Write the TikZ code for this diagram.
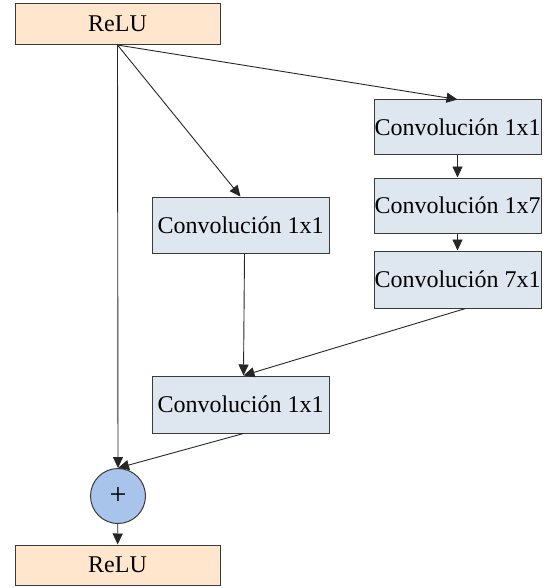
\documentclass[tikz,border=0pt]{standalone}
\usepackage{fontspec}
\setmainfont{Liberation Serif}
\usetikzlibrary{arrows.meta}
\definecolor{reluFill}{HTML}{FFE6CC}
\definecolor{convFill}{HTML}{DEE6EF}
\definecolor{sumFill}{HTML}{A9C4EB}
\definecolor{edgeGray}{HTML}{3A3A3A}
\tikzset{
  block/.style={draw=edgeGray, line width=1pt, inner sep=0pt, font=\fontsize{24}{28}\selectfont},
  relubox/.style={block, fill=reluFill, minimum width=205pt, minimum height=41pt},
  convbox/.style={block, fill=convFill, minimum width=167pt, minimum height=55pt},
  sumnode/.style={draw=edgeGray, line width=1pt, fill=sumFill, circle, minimum size=55pt, inner sep=0pt, font=\fontsize{30}{34}\selectfont},
  link/.style={draw=black!85, line width=0.9pt, -{Triangle[length=11pt,width=10pt]}}
}
\begin{document}
\begin{tikzpicture}[x=1pt,y=-1pt]
\useasboundingbox (0,0) rectangle (552,588);
% blocks
\node[relubox] (relu1) at (117.5,24) {ReLU};
\node[convbox] (c1) at (457.5,127.5) {Convolución 1x1};
\node[convbox] (c2) at (457.5,205.5) {Convolución 1x7};
\node[convbox, minimum height=57pt] (c3) at (457.5,279.5) {Convolución 7x1};
\node[convbox, minimum width=177pt, minimum height=56pt] (cm) at (240.5,225) {Convolución 1x1};
\node[convbox, minimum width=177pt, minimum height=57pt] (cl) at (240.5,404.5) {Convolución 1x1};
\node[sumnode] (sum) at (118,496) {+};
\node[relubox, minimum height=40pt] (relu2) at (117.5,565) {ReLU};
% connectors
\draw[link] (relu1.south) -- (c1.north);
\draw[link] (relu1.south) -- (cm.north);
\draw[link] (relu1.south) -- (sum.north);
\draw[link] (c1) -- (c2);
\draw[link] (c2) -- (c3);
\draw[link] ([xshift=8pt]c3.south) -- ([xshift=3pt]cl.north);
\draw[link] ([xshift=4pt]cm.south) -- ([xshift=3pt]cl.north);
\draw[link] ([xshift=3pt]cl.south) -- (sum.north);
\draw[link] (sum) -- (relu2);
\end{tikzpicture}
\end{document}
